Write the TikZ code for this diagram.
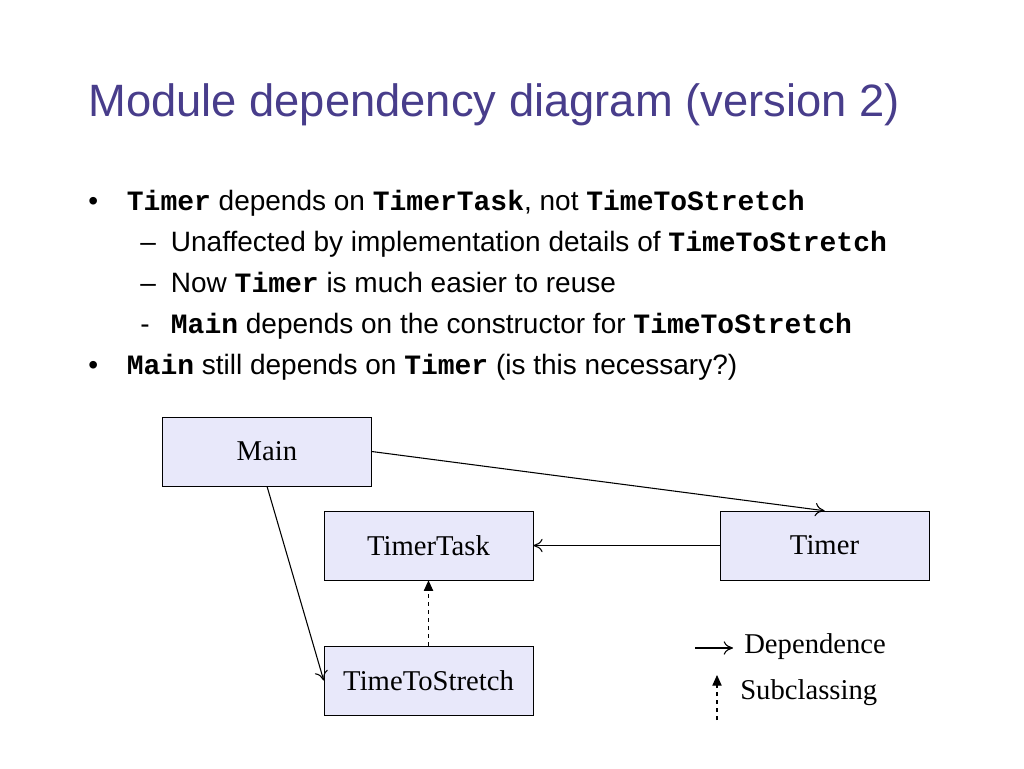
\documentclass[tikz,border=0pt]{standalone}
\usepackage{fontspec}
\setmainfont{Liberation Sans}
\newfontfamily\boxfont{Liberation Serif}
\newfontfamily\codefont{Liberation Mono}
\usetikzlibrary{arrows.meta}
\definecolor{titleblue}{RGB}{72,61,139}
\definecolor{boxfill}{RGB}{232,232,250}
\newcommand{\cd}[1]{{\codefont\bfseries #1}}
\tikzset{
  modbox/.style={draw, fill=boxfill, minimum width=209*0.75pt, minimum height=69*0.75pt, font=\boxfont\fontsize{21.5}{26}\selectfont, inner sep=0pt},
  dep/.style={-{To[length=7pt,width=10pt]}, thick},
  sub/.style={-{Triangle[length=8pt,width=7pt]}, dashed, thick},
  line/.style={anchor=base west, inner sep=0pt, font=\fontsize{21}{25}\selectfont}
}
\begin{document}
\begin{tikzpicture}[x=0.75pt,y=0.75pt,yscale=-1,xscale=1]
\useasboundingbox (0,0) rectangle (1024,768);

% title
\node (title) [anchor=base west, inner sep=0pt, text=titleblue, font=\fontsize{34}{40}\selectfont] at (88,116) {Module dependency diagram (version 2)};

% bullets
\node (b1) [line] at (88,210) {\makebox[29pt][l]{\textbullet}\cd{Timer} depends on \cd{TimerTask}, not \cd{TimeToStretch}};
\node (b2) [line] at (140,251) {\makebox[23pt][l]{--}Unaffected by implementation details of \cd{TimeToStretch}};
\node (b3) [line] at (140,292) {\makebox[23pt][l]{--}Now \cd{Timer} is much easier to reuse};
\node (b4) [line] at (140,333) {\makebox[23pt][l]{-}\cd{Main} depends on the constructor for \cd{TimeToStretch}};
\node (b5) [line] at (88,374) {\makebox[29pt][l]{\textbullet}\cd{Main} still depends on \cd{Timer} (is this necessary?)};

% modules
\node (main) [modbox] at (267,451.5) {Main};
\node (task) [modbox] at (428.5,545.5) {TimerTask};
\node (timer) [modbox] at (824.5,545.5) {Timer};
\node (stretch) [modbox] at (428.5,680.5) {TimeToStretch};

% connectors
\draw [dep] (main.east) -- (timer.north);
\draw [dep] (main.south) -- (stretch.west);
\draw [dep] (timer.west) -- (task.east);
\draw [sub] (stretch.north) -- (task.south);

% legend
\coordinate (depa) at (695,648);
\coordinate (depb) at (733,648);
\coordinate (suba) at (717,720);
\coordinate (subb) at (717,675);
\draw [dep] (depa) -- (depb);
\draw [sub] (suba) -- (subb);
\node (deplbl) [anchor=west, inner sep=0pt, font=\boxfont\fontsize{21.5}{26}\selectfont] at (744,647) {Dependence};
\node (sublbl) [anchor=west, inner sep=0pt, font=\boxfont\fontsize{21.5}{26}\selectfont] at (740,693) {Subclassing};
\end{tikzpicture}
\end{document}
